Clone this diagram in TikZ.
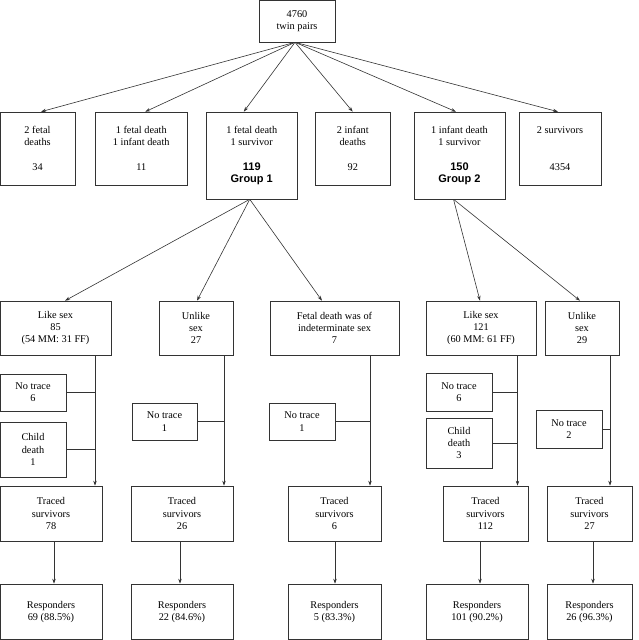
\documentclass[tikz,border=0pt]{standalone}
\usepackage{fontspec}
\setmainfont{Liberation Serif}
\newfontfamily\grpfont{Liberation Sans}
\usetikzlibrary{arrows.meta}
\begin{document}
\begin{tikzpicture}[x=1pt,y=-1pt,
  box/.style={draw=black!80, line width=0.6pt, inner sep=0pt, align=center,
    font=\fontsize{10.3}{12.3}\selectfont},
  arr/.style={draw=black!80, line width=0.6pt, -{Stealth[length=5pt,width=3.4pt]}},
  ln/.style={draw=black!80, line width=0.6pt},
  grp/.style={}]
\useasboundingbox (0,0) rectangle (638,640);
\newcommand\bx[6]{\node[box, minimum width={#4pt-#2pt}, minimum height={#5pt-#3pt}]
  (#1) at ({(#2+#4)/2},{(#3+#5)/2}) {#6};}
\newcommand\gp[1]{{\grpfont\bfseries\fontsize{11}{12.3}\selectfont #1}}
% top
\bx{top}{259}{0}{335}{42}{4760\\twin pairs}
% row 2
\bx{b1}{0}{112}{75}{185}{2 fetal\\deaths\\[12.3pt]34}
\bx{b2}{95.5}{112}{187}{185}{1 fetal death\\1 infant death\\[12.3pt]11}
\bx{b3}{206}{112}{297.5}{199}{1 fetal death\\1 survivor\\[12.3pt]\gp{119}\\\gp{Group 1}}
\bx{b4}{315.5}{112}{390}{185}{2 infant\\deaths\\[12.3pt]92}
\bx{b5}{414}{112}{505}{199}{1 infant death\\1 survivor\\[12.3pt]\gp{150}\\\gp{Group 2}}
\bx{b6}{519}{112}{601}{185}{2 survivors\\[24.6pt]4354}
% row 3
\bx{L1}{0}{301}{111}{355}{Like sex\\85\\(54 MM: 31 FF)}
\bx{U1}{159}{301}{233}{355}{Unlike\\sex\\27}
\bx{F1}{270}{301}{399}{355}{Fetal death was of\\indeterminate sex\\7}
\bx{L2}{426}{301}{536}{355}{Like sex\\121\\(60 MM: 61 FF)}
\bx{U2}{545}{301}{619}{355}{Unlike\\sex\\29}
% side boxes
\bx{nt1}{0}{374}{66}{411}{No trace\\6}
\bx{cd1}{0}{422}{66}{477}{Child\\death\\1}
\bx{nt2}{132}{403}{197}{440}{No trace\\1}
\bx{nt3}{269}{403}{335}{440}{No trace\\1}
\bx{nt4}{426}{373}{492}{411}{No trace\\6}
\bx{cd4}{426}{418}{492}{468}{Child\\death\\3}
\bx{nt5}{536}{410}{602}{448}{No trace\\2}
% traced
\bx{T1}{0}{486}{102}{541}{Traced\\survivors\\78}
\bx{T2}{131}{486}{233}{541}{Traced\\survivors\\26}
\bx{T3}{288}{486}{381}{541}{Traced\\survivors\\6}
\bx{T4}{443}{486}{528}{541}{Traced\\survivors\\112}
\bx{T5}{547}{486}{632}{541}{Traced\\survivors\\27}
% responders
\bx{R1}{0}{584}{102}{639.5}{Responders\\69 (88.5\%)}
\bx{R2}{131}{584}{233}{639.5}{Responders\\22 (84.6\%)}
\bx{R3}{288}{584}{381}{639.5}{Responders\\5 (83.3\%)}
\bx{R4}{426}{584}{528}{639.5}{Responders\\101 (90.2\%)}
\bx{R5}{547}{584}{632}{639.5}{Responders\\26 (96.3\%)}
% arrows top -> row 2
\draw[arr] ([xshift=-2pt]top.south) -- ([xshift=3.5pt]b1.north);
\draw[arr] ([xshift=-2pt]top.south) -- ([xshift=4pt]b2.north);
\draw[arr] ([xshift=-2pt]top.south) -- ([xshift=-8pt]b3.north);
\draw[arr] ([xshift=-2pt]top.south) -- (b4.north);
\draw[arr] ([xshift=-2pt]top.south) -- ([xshift=-3.5pt]b5.north);
\draw[arr] ([xshift=-2pt]top.south) -- ([xshift=-2pt]b6.north);
% group arrows
\draw[arr] ([xshift=-2pt]b3.south) -- ([xshift=9.5pt]L1.north);
\draw[arr] ([xshift=-2pt]b3.south) -- ([xshift=1pt]U1.north);
\draw[arr] ([xshift=-2pt]b3.south) -- ([xshift=-12.5pt]F1.north);
\draw[arr] ([xshift=-6pt]b5.south) -- ([xshift=-1pt]L2.north);
\draw[arr] ([xshift=-6pt]b5.south) -- ([xshift=-2pt]U2.north);
% vertical lines row3 -> traced
\coordinate (v1) at (95,0);
\coordinate (v2) at (224,0);
\coordinate (v3) at (370,0);
\coordinate (v4) at (517.5,0);
\coordinate (v5) at (610,0);
\draw[arr] (L1.south -| v1) -- (T1.north -| v1);
\draw[arr] (U1.south -| v2) -- (T2.north -| v2);
\draw[arr] (F1.south -| v3) -- (T3.north -| v3);
\draw[arr] (L2.south -| v4) -- (T4.north -| v4);
\draw[arr] (U2.south -| v5) -- (T5.north -| v5);
% side connectors
\draw[ln] (nt1.east) -- (nt1.east -| v1);
\draw[ln] (cd1.east) -- (cd1.east -| v1);
\draw[ln] (nt2.east) -- (nt2.east -| v2);
\draw[ln] (nt3.east) -- (nt3.east -| v3);
\draw[ln] (nt4.east) -- (nt4.east -| v4);
\draw[ln] (cd4.east) -- (cd4.east -| v4);
\draw[ln] (nt5.east) -- (nt5.east -| v5);
% traced -> responders
\coordinate (w1) at (54,0);
\coordinate (w2) at (180,0);
\coordinate (w3) at (335,0);
\coordinate (w4) at (480,0);
\coordinate (w5) at (593,0);
\draw[arr] (T1.south -| w1) -- (R1.north -| w1);
\draw[arr] (T2.south -| w2) -- (R2.north -| w2);
\draw[arr] (T3.south -| w3) -- (R3.north -| w3);
\draw[arr] (T4.south -| w4) -- (R4.north -| w4);
\draw[arr] (T5.south -| w5) -- (R5.north -| w5);
\end{tikzpicture}
\end{document}
